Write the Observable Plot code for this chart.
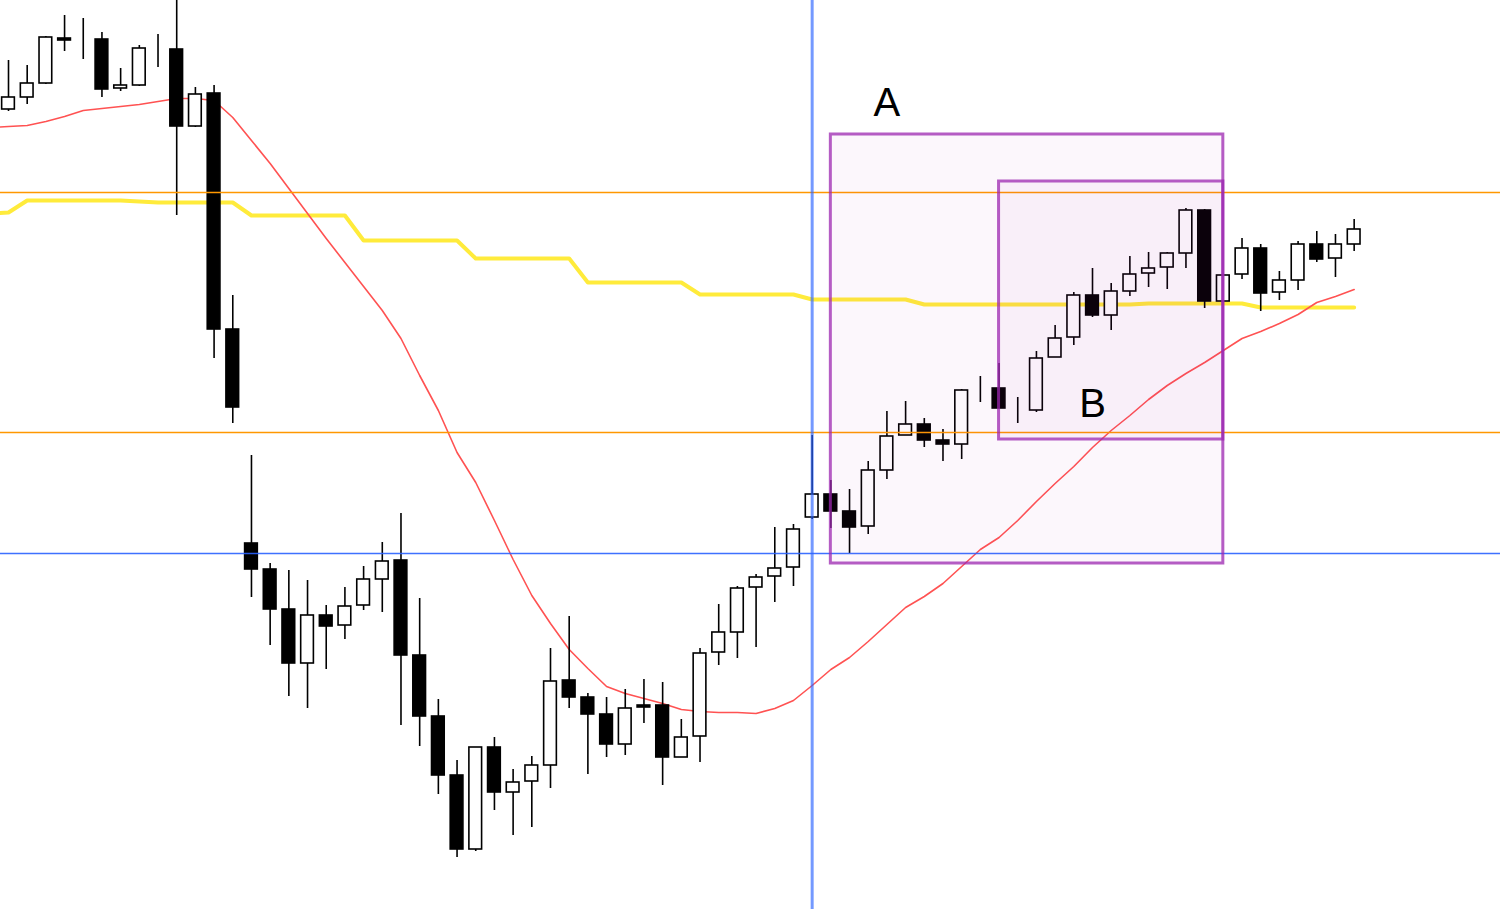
<!DOCTYPE html>
<html>
<head>
<meta charset="utf-8">
<script src="https://cdn.jsdelivr.net/npm/d3@7"></script>
<script src="https://cdn.jsdelivr.net/npm/@observablehq/plot@0.6"></script>
<style>
  html, body { margin: 0; padding: 0; background: #fff; overflow: hidden; }
</style>
</head>
<body>
<div id="chart"></div>
<script>
// OHLC price series, one entry per bar (bar index = position in the array)
const opens  = [891, 903, 917, 962, 961, 961, 912, 915, 953, 951, 874, 907, 671,
                457, 431, 391, 337, 385, 375, 395, 421, 440, 345, 284, 225, 151,
                253, 208, 219, 235, 320, 303, 286, 256, 295, 295, 243, 264, 348,
                368, 413, 424, 433, 483, 506, 489, 474, 530, 565, 576, 560, 556,
                613, 612, 592, 590, 643, 663, 705, 685, 709, 727, 733, 747, 790,
                699, 726, 752, 708, 720, 756, 742, 756];
const highs  = [940, 935, 964, 985, 982, 968, 932, 955, 966, 1010, 913, 915, 705,
                545, 437, 430, 420, 395, 413, 434, 458, 487, 402, 301, 240, 253,
                263, 231, 244, 352, 384, 307, 303, 311, 321, 318, 281, 352, 396,
                414, 426, 473, 476, 565, 520, 511, 539, 589, 599, 582, 571, 611,
                624, 637, 603, 649, 675, 708, 732, 717, 744, 748, 748, 792, 791,
                725, 762, 756, 729, 759, 769, 766, 781];
const lows   = [889, 896, 916, 949, 941, 903, 909, 914, 933, 785, 873, 642, 577,
                403, 355, 304, 292, 331, 361, 390, 388, 275, 254, 206, 143, 149,
                190, 165, 173, 212, 292, 226, 243, 245, 277, 215, 243, 238, 335,
                342, 353, 398, 414, 481, 472, 447, 466, 521, 565, 553, 539, 541,
                598, 592, 577, 588, 643, 655, 683, 670, 704, 713, 711, 732, 692,
                699, 721, 689, 700, 710, 738, 723, 749];
const closes = [903, 917, 963, 960, 961, 911, 915, 952, 953, 874, 906, 671, 593,
                431, 391, 337, 385, 374, 394, 421, 439, 345, 284, 225, 151, 253,
                208, 218, 235, 319, 303, 286, 256, 292, 293, 243, 263, 347, 368,
                412, 423, 432, 471, 506, 489, 473, 530, 564, 576, 560, 556, 610,
                613, 592, 592, 642, 662, 705, 685, 709, 726, 732, 747, 790, 699,
                725, 752, 707, 720, 756, 741, 756, 771];

// Moving averages start one bar earlier than the visible candles
const maFirstBar = -1;
// Short moving average (red)
const fastMA = [873,
                874, 875, 879, 884, 890, 892, 894, 896, 899, 902, 902, 900, 883,
                860, 837, 812, 787, 762, 738, 714, 690, 662, 625, 590, 548, 518,
                480, 441, 405, 377, 351, 332, 314, 307, 302, 297, 291, 289, 288,
                288, 287, 292, 300, 315, 331, 343, 359, 376, 393, 404, 417, 434,
                451, 463, 480, 499, 517, 534, 553, 570, 585, 601, 615, 627, 638,
                650, 662, 669, 677, 686, 698, 704, 711];
// Higher-timeframe average (yellow)
const slowMA = [787,
                788, 800, 800, 800, 800, 800, 800, 799, 798, 798, 798, 798, 798,
                785, 785, 785, 785, 785, 785, 760, 760, 760, 760, 760, 760, 742,
                742, 742, 742, 742, 742, 718, 718, 718, 718, 718, 718, 706, 706,
                706, 706, 706, 706, 701, 701, 701, 701, 701, 701, 696, 696, 696,
                696, 696, 696, 696, 696, 696, 696, 696, 696, 697, 697, 697, 697,
                697, 697, 693, 693, 693, 693, 693, 693];

// Horizontal price levels and the marked bar
const resistanceLevels = [808, 568];
const supportLevels = [447];
const markedBars = [43];

// Highlighted zones (bar range and price range) with their labels
const zoneNames = ["A", "B"];
const zoneFromBar = [44, 53];
const zoneToBar = [65, 65];
const zoneLow = [437, 561];
const zoneHigh = [866, 819];
const zoneLabelBar = [47, 58];
const zoneLabelPrice = [897, 596];

const candles = opens.map((o, i) => ({
  i, open: o, high: highs[i], low: lows[i], close: closes[i]
}));
const fastLine = fastMA.map((v, k) => ({ i: k + maFirstBar, v }));
const slowLine = slowMA.map((v, k) => ({ i: k + maFirstBar, v }));
const zones = zoneNames.map((name, k) => ({
  name,
  from: zoneFromBar[k], to: zoneToBar[k],
  low: zoneLow[k], high: zoneHigh[k],
  labelBar: zoneLabelBar[k], labelPrice: zoneLabelPrice[k]
}));

const halfBody = 0.34;

const chart = Plot.plot({
  width: 1500,
  height: 909,
  margin: 0,
  style: { background: "#fff", overflow: "hidden" },
  x: { type: "linear", domain: [-0.428, 79.83], axis: null },
  y: { type: "linear", domain: [91, 1000], axis: null },
  marks: [
    Plot.line(slowLine, { x: "i", y: "v", stroke: "#ffeb3b", strokeWidth: 4, curve: "linear", clip: true }),
    Plot.line(fastLine, { x: "i", y: "v", stroke: "#ff5252", strokeWidth: 1.6, curve: "linear", clip: true }),
    Plot.ruleX(candles, { x: "i", y1: "low", y2: "high", stroke: "#000", strokeWidth: 1.6, clip: true }),
    Plot.rect(candles, {
      x1: d => d.i - halfBody,
      x2: d => d.i + halfBody,
      y1: "open",
      y2: "close",
      fill: d => (d.close >= d.open ? "#fff" : "#000"),
      stroke: "#000",
      strokeWidth: 1.6
    }),
    Plot.ruleY(resistanceLevels, { stroke: "#ff9800", strokeWidth: 1.6 }),
    Plot.ruleY(supportLevels, { stroke: "#2962ff", strokeWidth: 1.6, strokeOpacity: 0.9 }),
    Plot.rect(zones, {
      x1: "from", x2: "to", y1: "low", y2: "high",
      fill: "#9c27b0", fillOpacity: 0.035,
      stroke: "#9c27b0", strokeOpacity: 0.75, strokeWidth: 3
    }),
    Plot.ruleX(markedBars, { stroke: "#2962ff", strokeOpacity: 0.65, strokeWidth: 3 }),
    Plot.text(zones, {
      x: "labelBar", y: "labelPrice", text: "name",
      fill: "#000", fontSize: 40, fontFamily: "Liberation Sans, Arial, sans-serif",
      textAnchor: "middle", lineAnchor: "middle"
    })
  ]
});

document.getElementById("chart").appendChild(chart);
</script>
</body>
</html>
